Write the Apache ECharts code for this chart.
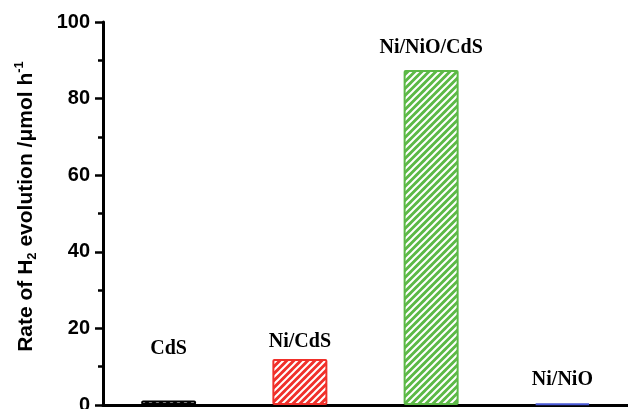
<!DOCTYPE html>
<html>
<head>
<meta charset="utf-8">
<script src="https://cdn.jsdelivr.net/npm/echarts@6/dist/echarts.min.js"></script>
<style>
  html, body { margin: 0; padding: 0; background: #fff; }
  #main { width: 628px; height: 409px; }
</style>
</head>
<body>
<div id="main"></div>
<script>
var catalysts = ['CdS', 'Ni/CdS', 'Ni/NiO/CdS', 'Ni/NiO'];
var rates = [1.2, 12, 87.5, 0.4];
var yTicks = [0, 20, 40, 60, 80, 100];

var barColors = ['#000000', '#f0302a', '#5cb946', '#4b5bd6'];
// labels sit at different heights above each bar in the original
var labelGaps = [42, 7, 12, 13];

// diagonal white stripes on the bar colour
function hatch(color) {
  var s = 7;
  var c = document.createElement('canvas');
  c.width = s;
  c.height = s;
  var ctx = c.getContext('2d');
  ctx.fillStyle = color;
  ctx.fillRect(0, 0, s, s);
  ctx.strokeStyle = '#ffffff';
  ctx.lineWidth = 2;
  ctx.beginPath();
  ctx.moveTo(-1, s + 1); ctx.lineTo(s + 1, -1);
  ctx.moveTo(-1, 1); ctx.lineTo(1, -1);
  ctx.moveTo(s - 1, s + 1); ctx.lineTo(s + 1, s - 1);
  ctx.stroke();
  return c;
}

var chart = echarts.init(document.getElementById('main'));

var barData = [];
for (var i = 0; i < catalysts.length; i++) {
  barData.push({
    value: rates[i],
    itemStyle: {
      color: { image: hatch(barColors[i]), repeat: 'repeat' },
      borderColor: barColors[i],
      borderWidth: 2,
      borderRadius: 1
    },
    label: { distance: labelGaps[i] }
  });
}

var option = {
  animation: false,
  grid: { left: 103, right: 0, top: 22, bottom: 4, containLabel: false, outerBoundsMode: 'none' },
  xAxis: {
    type: 'category',
    data: catalysts,
    boundaryGap: true,
    axisLine: { lineStyle: { color: '#000', width: 3 } },
    axisTick: { show: false },
    axisLabel: { show: false }
  },
  yAxis: {
    type: 'value',
    min: yTicks[0],
    max: yTicks[yTicks.length - 1],
    interval: yTicks[1] - yTicks[0],
    splitLine: { show: false },
    axisLine: { show: true, lineStyle: { color: '#000', width: 3 } },
    axisTick: { show: true, length: 8, lineStyle: { color: '#000', width: 2.5 } },
    minorTick: { show: true, splitNumber: 2, length: 5, lineStyle: { color: '#000', width: 2.5 } },
    axisLabel: {
      color: '#000',
      fontFamily: 'Liberation Sans',
      fontWeight: 'bold',
      fontSize: 20,
      margin: 13
    },
    name: 'Rate of H{sub|2} evolution /μmol h{sup|-1}',
    nameLocation: 'middle',
    nameRotate: 90,
    nameGap: 64,
    nameTextStyle: {
      color: '#000',
      fontFamily: 'Liberation Sans',
      fontWeight: 'bold',
      fontSize: 21,
      padding: [0, 0, 0, 14],
      rich: {
        sub: { fontFamily: 'Liberation Sans', fontWeight: 'bold', fontSize: 13, color: '#000', verticalAlign: 'bottom', lineHeight: 26, padding: [9, 0, 0, 0] },
        sup: { fontFamily: 'Liberation Sans', fontWeight: 'bold', fontSize: 13, color: '#000', verticalAlign: 'top', lineHeight: 26, padding: [0, 0, 9, 0] }
      }
    }
  },
  series: [{
    type: 'bar',
    barWidth: 55,
    data: barData,
    label: {
      show: true,
      position: 'top',
      color: '#000',
      fontFamily: 'Liberation Serif',
      fontWeight: 'bold',
      fontSize: 20,
      formatter: function (p) { return p.name; }
    }
  }]
};

chart.setOption(option);
</script>
</body>
</html>
